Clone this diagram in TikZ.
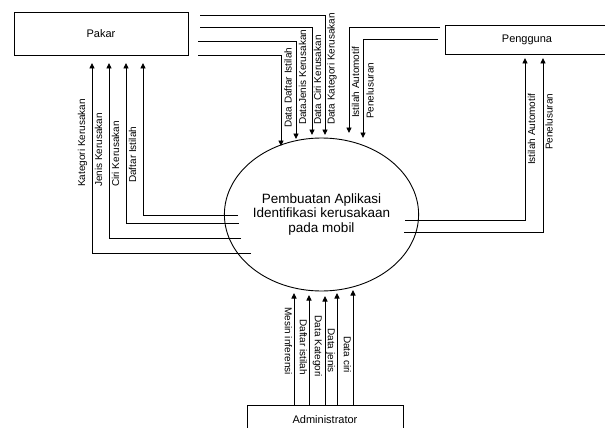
\documentclass[tikz,border=0pt]{standalone}
\usepackage{fontspec}
\setmainfont{Liberation Sans}
\usetikzlibrary{arrows.meta,shapes.geometric}
\begin{document}
\begin{tikzpicture}[x=1pt,y=-1pt,
  flow/.style={line width=0.9pt,-{Triangle[length=5.5pt,width=5pt]}},
  entity/.style={draw,line width=0.9pt,rectangle,inner sep=0pt,font=\fontsize{11}{13}\selectfont},
  proc/.style={draw,line width=0.9pt,ellipse,inner sep=0pt,minimum width=167pt,minimum height=153pt,align=center,font=\fontsize{13.5}{14.5}\selectfont},
  lblup/.style={rotate=90,anchor=mid west,inner sep=0pt,font=\fontsize{10}{12}\selectfont},
  lbldown/.style={rotate=-90,anchor=mid east,inner sep=0pt,font=\fontsize{10}{12}\selectfont}]
\useasboundingbox (0,0) rectangle (605,428);
\clip (0,0) rectangle (605,428);

% entities and process
\node[entity,minimum width=174pt,minimum height=43pt] (pakar) at (101,33.5) {Pakar};
\node[entity,minimum width=164pt,minimum height=29pt] (pengguna) at (527,39.5) {Pengguna};
\node[entity,minimum width=156pt,minimum height=30pt] (admin) at (325,420) {Administrator};
\node[proc] (sys) at (321.5,214.5) {Pembuatan Aplikasi\\Identifikasi kerusakaan\\pada mobil};

% Pakar -> process
\coordinate (pa1) at (200,15.7);  \coordinate (pb1) at (325,135);
\coordinate (pa2) at (200,27.7);  \coordinate (pb2) at (312,135);
\coordinate (pa3) at (198,41.7);  \coordinate (pb3) at (296,139);
\coordinate (pa4) at (198,55);    \coordinate (pb4) at (281,146);
\draw[flow] (pa1) -| (pb1);
\draw[flow] (pa2) -| (pb2);
\draw[flow] (pa3) -| (pb3);
\draw[flow] (pa4) -| (pb4);
\node[lblup] (l1) at (332,125) {Data Kategori Kerusakan};
\node[lblup] (l2) at (318.5,125) {Data Ciri Kerusakan};
\node[lblup] (l3) at (303.5,125) {DataJenis Kerusakan};
\node[lblup] (l4) at (289,128) {Data Daftar Istilah};

% Pengguna -> process
\coordinate (ga1) at (440,27);  \coordinate (gb1) at (349,133);
\coordinate (ga2) at (438,39);  \coordinate (gb2) at (363,138);
\draw[flow] (ga1) -| (gb1);
\draw[flow] (ga2) -| (gb2);
\node[lblup] (l5) at (356.5,118) {Istilah Automotif};
\node[lblup] (l6) at (371,119) {Penelusuran};

% process -> Pengguna
\coordinate (sa1) at (405,220);  \coordinate (sb1) at (525,58);
\coordinate (sa2) at (404,232);  \coordinate (sb2) at (543,58);
\draw[flow] (sa1) -| (sb1);
\draw[flow] (sa2) -| (sb2);
\node[lblup] (l7) at (532.5,165) {Istilah Automotif};
\node[lblup] (l8) at (550,150) {Penelusuran};

% process -> Pakar
\coordinate (ka1) at (238,215);  \coordinate (kb1) at (143,63);
\coordinate (ka2) at (238.5,223);  \coordinate (kb2) at (126,63);
\coordinate (ka3) at (241,238);  \coordinate (kb3) at (109,63);
\coordinate (ka4) at (251,253);  \coordinate (kb4) at (92,63);
\draw[flow] (ka1) -| (kb1);
\draw[flow] (ka2) -| (kb2);
\draw[flow] (ka3) -| (kb3);
\draw[flow] (ka4) -| (kb4);
\node[lblup] (l9) at (133.5,183) {Daftar Istilah};
\node[lblup] (l10) at (116.5,187) {Ciri Kerusakan};
\node[lblup] (l11) at (99.5,187) {Jenis Kerusakan};
\node[lblup] (l12) at (82.5,187) {Kategori Kerusakan};

% Administrator -> process
\coordinate (ab1) at (294,293);
\coordinate (ab2) at (309,295);
\coordinate (ab3) at (325,296);
\coordinate (ab4) at (337,293);
\coordinate (ab5) at (353,290);
\draw[flow] (admin.north -| ab1) -- (ab1);
\draw[flow] (admin.north -| ab2) -- (ab2);
\draw[flow] (admin.north -| ab3) -- (ab3);
\draw[flow] (admin.north -| ab4) -- (ab4);
\draw[flow] (admin.north -| ab5) -- (ab5);
\node[lbldown] (m1) at (287.5,375) {Mesin inferensi};
\node[lbldown] (m2) at (302.5,375) {Daftar istilah};
\node[lbldown] (m3) at (317.5,377) {Data Kategori};
\node[lbldown] (m4) at (330.5,373) {Data jenis};
\node[lbldown] (m5) at (346.5,373) {Data ciri};
\end{tikzpicture}
\end{document}
